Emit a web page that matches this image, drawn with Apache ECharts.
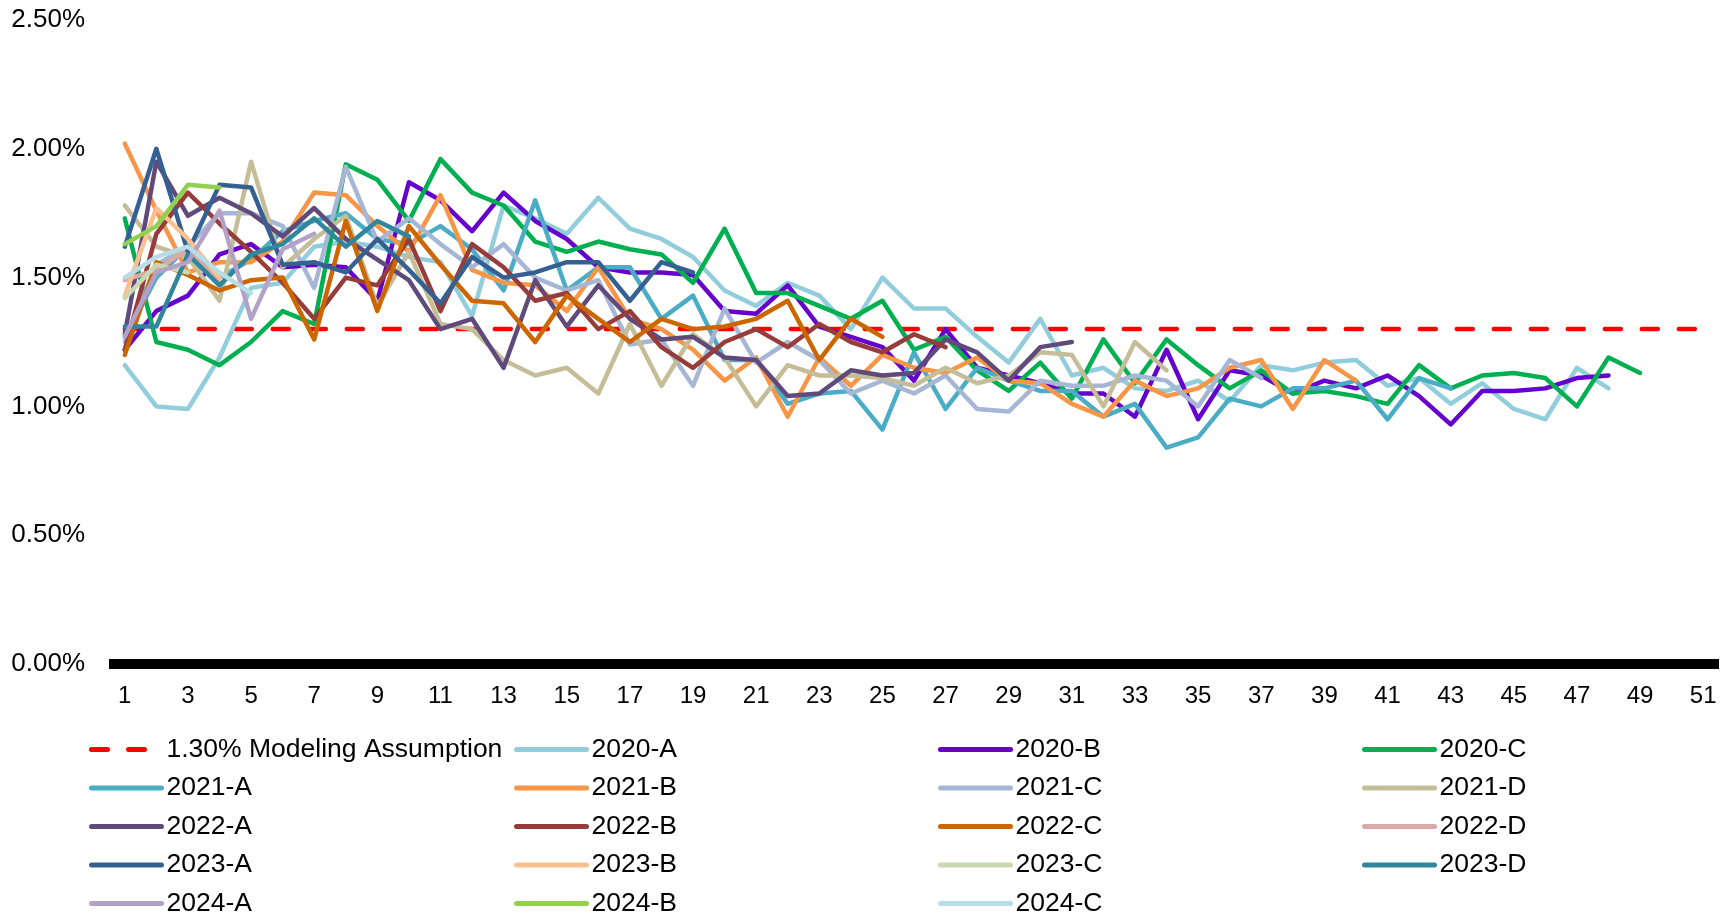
<!DOCTYPE html>
<html>
<head>
<meta charset="utf-8">
<script src="https://cdn.jsdelivr.net/npm/echarts@6/dist/echarts.min.js"></script>
<style>
  html, body { margin: 0; padding: 0; background: #ffffff; }
  #chart { width: 1733px; height: 914px; }
</style>
</head>
<body>
<div id="chart"></div>
<script>
// Weekly rate by pool vintage (percent), week numbers 1..51
const categories = ['1','2','3','4','5','6','7','8','9','10','11','12','13','14','15','16','17','18','19','20',
  '21','22','23','24','25','26','27','28','29','30','31','32','33','34','35','36','37','38','39','40',
  '41','42','43','44','45','46','47','48','49','50','51'];

const assumptionRate = 1.30;

const s2020A = [1.16,1.00,0.99,1.19,1.46,1.48,1.62,1.64,1.62,1.58,1.56,1.35,1.78,1.73,1.67,1.81,1.69,1.65,1.58,1.45,
  1.39,1.48,1.43,1.30,1.50,1.38,1.38,1.27,1.17,1.34,1.12,1.15,1.07,1.06,1.10,1.02,1.16,1.14,1.17,1.18,
  1.08,1.11,1.01,1.09,0.99,0.95,1.15,1.07];
const s2020B = [1.22,1.37,1.43,1.59,1.63,1.54,1.55,1.54,1.41,1.87,1.80,1.68,1.83,1.72,1.65,1.54,1.52,1.52,1.51,1.37,
  1.36,1.47,1.31,1.27,1.23,1.10,1.30,1.15,1.12,1.09,1.05,1.05,0.96,1.22,0.95,1.14,1.12,1.05,1.10,1.07,
  1.12,1.04,0.93,1.06,1.06,1.07,1.11,1.12];
const s2020C = [1.73,1.25,1.22,1.16,1.25,1.37,1.32,1.94,1.88,1.72,1.96,1.83,1.78,1.64,1.60,1.64,1.61,1.59,1.48,1.69,
  1.44,1.44,1.39,1.34,1.41,1.22,1.27,1.14,1.06,1.17,1.03,1.26,1.09,1.26,1.16,1.07,1.14,1.05,1.06,1.04,
  1.01,1.16,1.07,1.12,1.13,1.11,1.00,1.19,1.13];
const s2021A = [1.27,1.50,1.62,1.50,1.57,1.68,1.72,1.75,1.65,1.63,1.70,1.61,1.45,1.80,1.45,1.54,1.54,1.34,1.43,1.18,
  1.18,1.01,1.05,1.06,0.91,1.21,0.99,1.15,1.10,1.06,1.06,0.96,1.01,0.84,0.88,1.03,1.00,1.07,1.07,1.10,
  0.95,1.11,1.07];
const s2021B = [2.02,1.76,1.52,1.56,1.56,1.64,1.83,1.82,1.70,1.60,1.82,1.53,1.48,1.47,1.37,1.54,1.34,1.30,1.22,1.10,
  1.19,0.96,1.19,1.08,1.20,1.15,1.13,1.19,1.10,1.09,1.01,0.96,1.10,1.04,1.07,1.15,1.18,0.99,1.18,1.10];
const s2021C = [1.25,1.55,1.62,1.75,1.75,1.70,1.46,1.93,1.64,1.73,1.63,1.54,1.63,1.50,1.45,1.49,1.24,1.26,1.08,1.38,
  1.17,1.25,1.18,1.05,1.10,1.05,1.12,0.99,0.98,1.10,1.08,1.08,1.12,1.10,1.00,1.18,1.11];
const s2021D = [1.78,1.62,1.58,1.41,1.95,1.54,1.65,1.74,1.39,1.60,1.32,1.30,1.18,1.12,1.15,1.05,1.32,1.08,1.28,1.19,
  1.00,1.16,1.12,1.12,1.11,1.08,1.15,1.09,1.12,1.21,1.20,1.00,1.25,1.14];
const s2022A = [1.28,1.95,1.74,1.81,1.75,1.66,1.77,1.65,1.57,1.49,1.30,1.34,1.15,1.49,1.31,1.47,1.34,1.26,1.27,1.19,
  1.18,1.04,1.05,1.14,1.12,1.13,1.26,1.21,1.10,1.23,1.25];
const s2022B = [1.22,1.67,1.83,1.71,1.60,1.48,1.34,1.50,1.47,1.65,1.37,1.63,1.54,1.41,1.44,1.30,1.37,1.23,1.15,1.25,
  1.30,1.23,1.32,1.25,1.21,1.28,1.23];
const s2022C = [1.20,1.56,1.51,1.45,1.49,1.50,1.26,1.72,1.37,1.70,1.55,1.41,1.40,1.25,1.43,1.34,1.25,1.34,1.30,1.31,
  1.34,1.41,1.18,1.34,1.27];
const s2022D = [1.49,1.53,1.61,1.48];
const s2023A = [1.62,2.00,1.60,1.86,1.85,1.55,1.56,1.52,1.65,1.53,1.40,1.58,1.50,1.52,1.56,1.56,1.41,1.56,1.52];
const s2023B = [1.43,1.77,1.65,1.50];
const s2023C = [1.42,1.55,1.52];
const s2023D = [1.31,1.31,1.59,1.47,1.59,1.63,1.73,1.62,1.72,1.66];
const s2024A = [1.27,1.52,1.56,1.76,1.34,1.61,1.67];
const s2024B = [1.63,1.70,1.86,1.85];
const s2024C = [1.50,1.58,1.62,1.52,1.44];

const yTicks = { min: 0, max: 2.5, step: 0.5 };

const vintages = [
  { name: '2020-A', data: s2020A, color: '#92CDDC' },
  { name: '2020-B', data: s2020B, color: '#6600CC' },
  { name: '2020-C', data: s2020C, color: '#00B050' },
  { name: '2021-A', data: s2021A, color: '#4BACC6' },
  { name: '2021-B', data: s2021B, color: '#F79646' },
  { name: '2021-C', data: s2021C, color: '#A6B6D5' },
  { name: '2021-D', data: s2021D, color: '#C4BD97' },
  { name: '2022-A', data: s2022A, color: '#604A7B' },
  { name: '2022-B', data: s2022B, color: '#963C3A' },
  { name: '2022-C', data: s2022C, color: '#CC6600' },
  { name: '2022-D', data: s2022D, color: '#DAAAA9' },
  { name: '2023-A', data: s2023A, color: '#376092' },
  { name: '2023-B', data: s2023B, color: '#FAC090' },
  { name: '2023-C', data: s2023C, color: '#C8D8B0' },
  { name: '2023-D', data: s2023D, color: '#31859C' },
  { name: '2024-A', data: s2024A, color: '#B3A2C7' },
  { name: '2024-B', data: s2024B, color: '#92D050' },
  { name: '2024-C', data: s2024C, color: '#B7DEE8' }
];

const FONT = 'Arial, "Liberation Sans", sans-serif';
const assumptionName = '1.30% Modeling Assumption';

const series = [{
  name: assumptionName,
  type: 'line',
  data: categories.map(() => assumptionRate),
  symbol: 'none',
  silent: true,
  lineStyle: { color: '#FF0000', width: 4.5, type: [16, 21], cap: 'round' },
  itemStyle: { color: '#FF0000' }
}].concat(vintages.map(v => ({
  name: v.name,
  type: 'line',
  data: v.data,
  symbol: 'none',
  lineStyle: { color: v.color, width: 4.5, join: 'round', cap: 'round' },
  itemStyle: { color: v.color }
})));

// legend laid out as 4 columns, filled row by row
const legendNames = [assumptionName].concat(vintages.map(v => v.name));
const colLeft = [89, 514, 938, 1362];
const legends = colLeft.map((left, c) => ({
  orient: 'vertical',
  left: left,
  top: 736,
  height: 190,
  padding: 0,
  itemWidth: 70,
  itemHeight: 14,
  itemGap: 11.5,
  selectedMode: false,
  itemStyle: { opacity: 0 },
  lineStyle: { width: 5 },
  textStyle: { fontSize: 26.5, color: '#000', fontFamily: FONT },
  data: legendNames.filter((n, i) => i % 4 === c)
}));

const chart = echarts.init(document.getElementById('chart'), null, { renderer: 'canvas' });
chart.setOption({
  animation: false,
  backgroundColor: '#ffffff',
  legend: legends,
  grid: { left: 109, right: 14, top: 20, bottom: 250, containLabel: false },
  xAxis: {
    type: 'category',
    data: categories,
    boundaryGap: true,
    axisLine: { show: true, lineStyle: { color: '#000', width: 10, cap: 'butt' } },
    axisTick: { show: false },
    axisLabel: { interval: 1, margin: 20, fontSize: 24, color: '#000', fontFamily: FONT },
    splitLine: { show: false }
  },
  yAxis: {
    type: 'value',
    min: yTicks.min,
    max: yTicks.max,
    interval: yTicks.step,
    axisLine: { show: false },
    axisTick: { show: false },
    splitLine: { show: false },
    axisLabel: {
      margin: 24, fontSize: 26, color: '#000', fontFamily: FONT,
      formatter: v => v.toFixed(2) + '%'
    }
  },
  series: series
});
</script>
</body>
</html>
